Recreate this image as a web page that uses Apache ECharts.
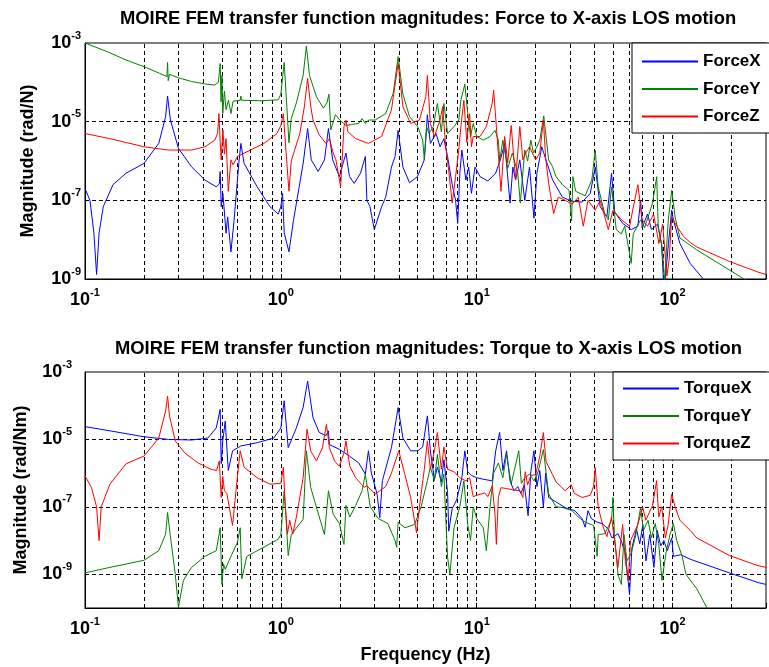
<!DOCTYPE html>
<html>
<head>
<meta charset="utf-8">
<script src="https://cdn.jsdelivr.net/npm/echarts@6/dist/echarts.min.js"></script>
<style>
html, body { margin: 0; padding: 0; background: #fff; }
#chart { width: 769px; height: 667px; }
</style>
</head>
<body>
<div id="chart"></div>
<script>
// transfer function magnitudes, [frequency Hz, magnitude]
var forceX = [
  [0.1, 2.0e-7], [0.106, 1.0e-7], [0.111, 1.5e-8], [0.1146, 1.3e-9], [0.118, 1.5e-8], [0.124, 6.9e-8],
  [0.139, 2.5e-7], [0.162, 4.9e-7], [0.2, 8.7e-7], [0.238, 2.8e-6], [0.258, 1.35e-5], [0.264, 4.5e-5],
  [0.273, 1.1e-5], [0.3, 2.1e-6], [0.35, 7.1e-7], [0.409, 3.3e-7], [0.468, 2.2e-7], [0.485, 2.6e-7],
  [0.49, 5.4e-7], [0.496, 6.9e-8], [0.506, 1.5e-7], [0.525, 1.45e-8], [0.535, 3.8e-8], [0.556, 4.9e-9],
  [0.577, 3.1e-8], [0.61, 8.7e-7], [0.625, 2.8e-6], [0.649, 8.7e-7], [0.757, 2.2e-7], [0.88, 6.9e-8],
  [0.97, 4.5e-8], [1.0, 6.9e-8], [1.02, 1.5e-7], [1.04, 1.5e-8], [1.10, 4.9e-9], [1.16, 3.1e-8],
  [1.30, 8.7e-7], [1.37, 6.7e-6], [1.43, 1.07e-6], [1.55, 5.4e-7], [1.67, 1.07e-6], [1.75, 6.7e-6],
  [1.84, 1.07e-6], [1.99, 4.0e-7], [2.15, 1.6e-6], [2.24, 4.0e-7], [2.37, 2.7e-7], [2.55, 4.9e-7],
  [2.7, 1.3e-6], [2.75, 1.0e-7], [2.85, 7e-8], [3.0, 1.8e-8], [3.27, 6.9e-8], [3.43, 1.2e-7],
  [3.67, 7.0e-7], [3.83, 1.3e-6], [3.97, 6.0e-6], [4.2, 7.0e-7], [4.54, 2.8e-7], [4.98, 4.0e-7],
  [5.4, 1.07e-6], [5.6, 1.5e-5], [5.8, 2.8e-6], [6.2, 5.0e-6], [6.5, 2.3e-6], [6.8, 3.7e-6],
  [7.1, 1.3e-6], [7.5, 2.5e-7], [7.8, 1.0e-7], [8.0, 2.6e-8], [8.2, 4.9e-7], [8.4, 1.9e-6],
  [8.8, 3.3e-7], [9.1, 7.0e-7], [9.4, 1.5e-7], [9.8, 7.0e-7], [10.4, 4.0e-7], [11.4, 3.1e-7],
  [12.5, 4.9e-7], [13.2, 1.07e-6], [13.9, 2.8e-6], [14.8, 8.5e-8], [15.3, 7e-7], [15.8, 3.3e-7],
  [16.6, 1.07e-6], [17.6, 1.0e-7], [18.6, 7e-7], [19.6, 3.5e-8], [20.3, 4.9e-7], [21.5, 2.3e-6],
  [22.0, 1.6e-6], [23.0, 8e-7], [24.4, 3.3e-7], [27.4, 1.2e-7], [30.7, 9.5e-8], [34.5, 9e-8],
  [38, 1.5e-7], [40.3, 7.0e-7], [42.7, 6.9e-8], [46.2, 3.8e-8], [48.8, 4.9e-7], [50.7, 5e-8],
  [55.6, 2.6e-8], [61.5, 1.8e-8], [66.5, 2.2e-8], [68.7, 1.0e-7], [70, 2e-8], [74.5, 4.5e-8],
  [78, 1.8e-8], [84, 2.5e-8], [87.7, 8e-9], [88.8, 3e-9], [90.3, 5e-10], [93, 2e-9],
  [95.3, 8e-9], [99, 5.6e-8], [101, 3.2e-8], [109, 8e-9], [123, 2.5e-9], [143.5, 1.0e-9], [150, 7e-10]
];
var forceY = [
  [0.1, 1.0e-3], [0.13, 6.0e-4], [0.162, 3.7e-4], [0.2, 2.5e-4], [0.24, 1.7e-4], [0.262, 1.4e-4],
  [0.264, 3.2e-4], [0.266, 1.1e-4], [0.27, 1.6e-4], [0.3, 1.3e-4], [0.35, 1.05e-4], [0.409, 9.1e-5],
  [0.459, 8.5e-5], [0.48, 1.0e-4], [0.49, 3.0e-4], [0.495, 3.2e-5], [0.5, 1.5e-4], [0.505, 1.6e-5],
  [0.515, 6e-5], [0.525, 2.0e-5], [0.54, 3.5e-5], [0.556, 1.6e-5], [0.57, 3.3e-5], [0.62, 3.5e-5],
  [0.625, 4.5e-5], [0.63, 3.5e-5], [0.8, 3.4e-5], [0.97, 3.6e-5], [1.0, 5e-5], [1.04, 3.2e-4],
  [1.07, 3e-5], [1.10, 2.9e-6], [1.13, 1.2e-5], [1.2, 3e-5], [1.3, 1.5e-4], [1.35, 8.4e-4],
  [1.40, 1.5e-4], [1.52, 4.3e-5], [1.65, 2.2e-5], [1.72, 3e-5], [1.76, 5e-5], [1.8, 6.2e-6],
  [1.9, 1.5e-5], [2.0, 1.1e-5], [2.15, 8e-6], [2.3, 8.5e-6], [2.5, 9e-6], [2.6, 1.2e-5],
  [2.7, 9e-6], [2.81, 1.1e-5], [3.03, 1.1e-5], [3.43, 1.6e-5], [3.75, 5.3e-5], [3.97, 4.5e-4],
  [4.2, 5e-5], [4.54, 1.35e-5], [5.0, 7.5e-6], [5.3, 3.4e-6], [5.4, 1.07e-6], [5.55, 7.5e-6],
  [5.7, 5e-6], [6.0, 7.5e-6], [6.3, 2.9e-5], [6.6, 5.5e-6], [6.8, 2.9e-5], [7.1, 5e-6],
  [7.66, 7.5e-6], [8.1, 1.1e-5], [8.3, 3.5e-5], [8.7, 9e-5], [9.0, 1.6e-5], [9.3, 4.2e-6],
  [9.6, 9e-6], [10, 4.2e-6], [10.8, 3.4e-6], [11.7, 4.2e-6], [12.4, 6e-6], [12.9, 3.4e-6],
  [13.1, 1e-6], [13.6, 3.4e-6], [14.4, 6.5e-7], [15.2, 1.6e-6], [16.2, 5e-7], [16.7, 8.5e-8],
  [17.6, 1.9e-6], [18.2, 1e-6], [18.9, 3.4e-6], [19.5, 1.6e-6], [20.3, 2.3e-6], [21, 3.4e-6],
  [22, 1.4e-5], [23.3, 1.07e-6], [24.4, 7.2e-7], [25.4, 4e-7], [27.4, 2.5e-7], [29.6, 1.8e-7],
  [30.5, 3e-8], [31, 4e-7], [32, 1.7e-7], [35.8, 1.3e-7], [38.7, 3.3e-7], [40.3, 1.9e-6],
  [41.7, 2.2e-7], [45, 4.6e-8], [47, 3.2e-8], [48.8, 2.2e-7], [51.6, 1.8e-8], [54.8, 1.4e-8],
  [57, 2.2e-8], [61.5, 2.5e-9], [63, 1.4e-8], [68.7, 3.2e-8], [72, 2e-8], [79, 8.5e-8],
  [83, 4e-7], [84.5, 2e-8], [88.8, 6e-9], [91, 8e-10], [95, 3e-8], [99, 1.8e-7],
  [103, 3.8e-8], [109, 1.1e-8], [133, 5.5e-9], [195, 1.7e-9], [228, 1.05e-9], [240, 9e-10]
];
var forceZ = [
  [0.1, 5e-6], [0.134, 3.7e-6], [0.2, 2.3e-6], [0.267, 1.9e-6], [0.35, 1.9e-6], [0.41, 2.3e-6],
  [0.46, 3.4e-6], [0.475, 5e-6], [0.483, 1.6e-5], [0.49, 3e-6], [0.496, 1.07e-6], [0.506, 6.2e-6],
  [0.515, 1.5e-6], [0.525, 3.7e-6], [0.539, 1.7e-7], [0.556, 1.07e-6], [0.57, 8e-7], [0.60, 1.3e-6],
  [0.70, 1.9e-6], [0.82, 2.8e-6], [0.955, 5e-6], [1.0, 8e-6], [1.03, 1.6e-5], [1.07, 1.07e-6],
  [1.10, 1.7e-7], [1.13, 1.0e-6], [1.25, 5e-6], [1.32, 2.5e-5], [1.37, 1.26e-4], [1.42, 2.5e-5],
  [1.46, 1.1e-5], [1.57, 4.6e-6], [1.70, 2.8e-6], [1.77, 3.7e-6], [1.85, 1.6e-6], [1.91, 1.07e-6],
  [2.02, 2.2e-7], [2.1, 7.5e-6], [2.15, 1.1e-5], [2.2, 5.5e-6], [2.41, 3.7e-6], [2.8, 2.8e-6],
  [3.27, 4.2e-6], [3.67, 2e-5], [3.97, 3.05e-4], [4.2, 2.4e-5], [4.6, 9e-6], [5.1, 1.1e-5],
  [5.5, 4.3e-5], [5.6, 1.5e-4], [5.8, 9e-6], [6.08, 4.2e-6], [6.5, 1.1e-5], [6.7, 2.4e-5],
  [6.95, 2.3e-6], [7.2, 5.5e-7], [7.5, 8.5e-8], [7.8, 4e-7], [8.1, 1.9e-6], [8.3, 7.5e-6],
  [8.6, 3.5e-5], [8.9, 3e-6], [9.2, 1.6e-5], [9.4, 2.3e-6], [9.6, 4.2e-6], [10.4, 4.2e-6],
  [11.2, 7.5e-6], [12.0, 2.9e-5], [12.2, 6.4e-5], [12.6, 7.5e-6], [13.3, 1.7e-7], [13.9, 4.2e-6],
  [14.4, 9e-7], [15.0, 8e-6], [15.8, 3.3e-7], [16.6, 7.5e-6], [17.2, 1.07e-6], [17.8, 1.6e-6],
  [18.6, 2.3e-6], [20.0, 1.07e-6], [21.0, 1.6e-6], [21.9, 1.1e-5], [22.5, 1.2e-6], [23.3, 2.7e-7],
  [24.7, 4.6e-8], [26.1, 1.2e-7], [28.3, 1.0e-7], [30.7, 8e-8], [33, 1.2e-7], [35, 2.2e-8],
  [37, 1.0e-7], [40.3, 5.6e-8], [42.7, 1.0e-7], [47, 1.8e-8], [49.6, 5.6e-8], [54.8, 3.2e-8],
  [60.3, 2.2e-8], [66.5, 2.5e-7], [70, 3.2e-8], [74.5, 2.2e-8], [80, 4.5e-8], [85.2, 8e-9],
  [89, 2.5e-8], [93.6, 1.2e-9], [96, 3e-9], [99, 3.8e-8], [105, 2.2e-8], [114, 1.2e-8],
  [123, 8.5e-9], [133, 6.5e-9], [195, 2.8e-9], [273, 1.5e-9], [300, 1.3e-9]
];
var torqueX = [
  [0.1, 2.4e-5], [0.134, 1.8e-5], [0.2, 1.2e-5], [0.267, 1.0e-5], [0.35, 9.6e-6], [0.424, 1.1e-5],
  [0.468, 2.2e-5], [0.49, 7.8e-5], [0.496, 1.9e-6], [0.505, 9e-6], [0.52, 3.5e-5], [0.539, 1.2e-6],
  [0.567, 4.6e-6], [0.625, 6.4e-6], [0.757, 8e-6], [0.92, 1.1e-5], [1.0, 2.2e-5], [1.04, 1.4e-4],
  [1.09, 5.7e-6], [1.2, 2.2e-5], [1.30, 9e-5], [1.37, 5.4e-4], [1.46, 4.4e-5], [1.57, 1.6e-5],
  [1.70, 1.3e-5], [1.75, 1.8e-5], [1.77, 7e-6], [1.99, 5.1e-6], [2.24, 3.2e-6], [2.5, 2.0e-6],
  [2.7, 9.3e-7], [2.8, 4.6e-6], [2.9, 1e-6], [3.1, 2.4e-7], [3.2, 4.8e-8], [3.3, 6e-7],
  [3.67, 5.7e-6], [3.97, 8.8e-5], [4.2, 1.1e-5], [4.6, 4.6e-6], [5.0, 4.6e-6], [5.3, 6e-6],
  [5.6, 5e-5], [5.8, 4.6e-6], [6.08, 6.5e-7], [6.3, 1.5e-6], [6.6, 5.5e-7], [6.8, 2.5e-6],
  [7.1, 2.7e-7], [7.2, 1.9e-8], [7.5, 9e-8], [7.9, 1.6e-7], [8.4, 7.3e-7], [8.7, 4.6e-6],
  [9.0, 1.1e-6], [9.4, 8.5e-7], [10, 7.3e-7], [10.8, 6.6e-7], [12.0, 5.9e-7], [12.5, 4.6e-6],
  [13.1, 1.6e-5], [13.6, 1.2e-6], [14.2, 4.6e-6], [14.8, 5.9e-7], [15.5, 3e-7], [16.2, 4e-7],
  [16.8, 2.5e-7], [17.5, 4.5e-7], [18.3, 5.5e-8], [18.9, 1.1e-6], [19.6, 4.6e-6], [20.3, 4e-7],
  [21, 1.2e-6], [21.9, 1.0e-7], [22.5, 1e-6], [23.3, 1.9e-7], [25.4, 1.4e-7], [28.3, 9.5e-8],
  [31.7, 7.7e-8], [34.5, 4.5e-8], [35.8, 2.5e-8], [37, 7.7e-8], [38.5, 4.5e-8], [41.2, 3.5e-8],
  [43.6, 3.2e-8], [47, 2.2e-8], [49, 1.2e-8], [52.6, 1.6e-8], [55, 9e-9], [57.4, 4.2e-9],
  [60.3, 2.5e-10], [62, 6e-9], [65.4, 2.2e-8], [68, 8e-9], [70.5, 3e-8], [73.2, 2.5e-9],
  [76.5, 1.5e-8], [80.3, 1.6e-9], [83.5, 2e-8], [87, 7e-9], [90.3, 1e-8], [94, 5e-9],
  [99, 1.2e-8], [101, 3.4e-9], [110, 3.8e-9], [123, 2.8e-9], [195, 1.1e-9], [273, 5.7e-10], [300, 5e-10]
];
var torqueY = [
  [0.1, 1.1e-9], [0.134, 1.6e-9], [0.2, 2.6e-9], [0.238, 5e-9], [0.258, 1.55e-8], [0.264, 6.8e-8],
  [0.272, 1.55e-8], [0.289, 1e-9], [0.30, 1.05e-10], [0.318, 6.6e-10], [0.35, 1.6e-9], [0.409, 3.4e-9],
  [0.468, 5e-9], [0.49, 2.4e-8], [0.5, 5e-10], [0.51, 2e-9], [0.52, 1.4e-9], [0.556, 3.4e-9],
  [0.6, 8.8e-9], [0.62, 2.4e-8], [0.632, 7.3e-10], [0.67, 3.4e-9], [0.82, 6.4e-9], [0.97, 1.1e-8],
  [1.0, 1.5e-8], [1.04, 3e-7], [1.07, 2.5e-8], [1.09, 3.6e-9], [1.13, 1.5e-8], [1.30, 4.3e-8],
  [1.35, 4.6e-6], [1.42, 3.8e-7], [1.52, 9.6e-8], [1.6, 3.5e-8], [1.67, 1.5e-8], [1.75, 3e-7],
  [1.85, 6e-8], [1.99, 3.2e-8], [2.1, 7.7e-9], [2.15, 1.1e-7], [2.25, 5e-8], [2.41, 1.1e-7],
  [2.6, 3e-7], [2.7, 9.3e-7], [2.86, 1e-7], [3.14, 4.5e-8], [3.52, 3.2e-8], [3.83, 1e-8],
  [3.9, 6.3e-9], [3.97, 3.5e-8], [4.3, 2.4e-8], [4.82, 3e-8], [5.2, 1e-7], [5.6, 6e-7],
  [5.8, 1.5e-6], [6.08, 6e-7], [6.3, 3.6e-6], [6.6, 4e-7], [6.8, 9.3e-7], [6.95, 5e-8],
  [7.1, 3.2e-9], [7.3, 1e-9], [7.66, 2.4e-8], [8.2, 1e-7], [8.6, 5.9e-7], [9.0, 3e-8],
  [9.3, 1e-8], [9.6, 1e-7], [10, 4.5e-8], [10.8, 2.4e-8], [11.2, 5e-9], [11.7, 1e-7],
  [12.2, 1e-6], [12.9, 2e-6], [13.6, 7.3e-7], [14.2, 3.6e-6], [15, 4.8e-7], [15.7, 1.5e-6],
  [16.4, 4.6e-6], [16.9, 5e-7], [17.6, 7.3e-7], [18.6, 9.3e-7], [19.6, 5.9e-7], [20.5, 1e-6],
  [21.9, 5e-6], [23.3, 2.4e-7], [25.4, 1.0e-7], [27.4, 9.6e-8], [30.7, 7.7e-8], [33, 5e-8],
  [35.8, 3.5e-8], [39.5, 2.8e-8], [41.2, 3.4e-9], [41.7, 1.5e-8], [45, 1.6e-8], [48.8, 4e-8],
  [49.6, 1.9e-7], [50.5, 1.5e-8], [52.6, 1e-9], [54.8, 5e-10], [56.5, 1.5e-8], [58.5, 2.5e-9],
  [61.5, 4.2e-9], [65, 1.5e-8], [68.7, 9.6e-8], [71, 2e-8], [75, 4e-8], [78, 1.2e-8],
  [81.6, 3.2e-8], [85, 8e-9], [88.3, 6.6e-10], [93, 5e-9], [97, 1.5e-8], [101, 3.2e-8],
  [105, 1e-8], [112, 3.4e-9], [117, 1e-9], [133, 3.7e-10], [150, 1e-10], [155, 7e-11]
];
var torqueZ = [
  [0.1, 8.3e-7], [0.108, 3.7e-7], [0.1146, 1e-7], [0.118, 1e-8], [0.121, 1e-7], [0.134, 4.7e-7],
  [0.162, 1.9e-6], [0.2, 3.2e-6], [0.238, 1.1e-5], [0.258, 7e-5], [0.264, 1.94e-4], [0.27, 5e-5],
  [0.289, 9e-6], [0.323, 4e-6], [0.378, 2e-6], [0.44, 1.3e-6], [0.47, 1.2e-6], [0.485, 2.3e-6],
  [0.496, 1.9e-7], [0.505, 8e-7], [0.515, 3e-7], [0.53, 2.5e-7], [0.567, 2.8e-8], [0.59, 3e-7],
  [0.62, 4.6e-6], [0.649, 1.5e-6], [0.757, 7.3e-7], [0.88, 4.7e-7], [1.0, 5e-7], [1.03, 1.5e-6],
  [1.05, 1.5e-7], [1.08, 1.55e-8], [1.11, 4e-8], [1.15, 1.55e-8], [1.2, 5e-8], [1.30, 7.3e-7],
  [1.36, 2e-5], [1.42, 4.6e-6], [1.52, 2.3e-6], [1.63, 5.7e-6], [1.71, 2.8e-5], [1.77, 5.7e-6],
  [1.88, 2.3e-6], [1.99, 1.6e-6], [2.1, 4e-6], [2.15, 9e-6], [2.25, 1.6e-6], [2.41, 7.3e-7],
  [2.66, 3.8e-7], [2.75, 4.2e-7], [3.03, 2.4e-7], [3.43, 4e-7], [3.67, 1e-6], [4.0, 4.6e-6],
  [4.3, 9e-7], [4.6, 1.9e-7], [4.93, 1.7e-8], [5.1, 1e-7], [5.4, 1.3e-6], [5.6, 9e-6],
  [5.8, 1.3e-6], [6.08, 4.6e-6], [6.3, 1.6e-5], [6.6, 1.3e-6], [6.8, 6e-6], [7.1, 1.3e-6],
  [7.66, 1.1e-6], [8.2, 7.3e-7], [8.8, 5.9e-7], [9.2, 7.3e-7], [9.6, 2e-7], [10, 2.2e-7],
  [11, 2.6e-7], [11.4, 2e-7], [12, 4.2e-7], [12.4, 6e-8], [12.6, 7.7e-9], [12.9, 1.9e-7],
  [13.3, 3.7e-7], [14.2, 3.5e-7], [15.3, 3.2e-7], [16.6, 3e-7], [17.2, 1.9e-7], [17.7, 1.1e-6],
  [18.2, 4.5e-7], [18.9, 8.5e-7], [20, 9e-7], [21, 3.2e-6], [21.9, 1.6e-5], [22.6, 2.2e-6],
  [24.4, 9e-7], [25.4, 5.5e-7], [28.3, 3.0e-7], [30.4, 4.5e-7], [31.5, 2.5e-7], [34.5, 1.9e-7],
  [38, 2.2e-7], [39.5, 4e-7], [40.3, 1.45e-6], [41.7, 1e-7], [44.2, 2.6e-8], [46.2, 1.3e-8],
  [48.8, 5e-8], [50.7, 9e-9], [52.6, 1.6e-9], [55.6, 3e-8], [57.4, 2.5e-9], [59.4, 6.6e-10],
  [61, 1e-8], [66.5, 3e-8], [70.3, 1e-7], [73, 4e-8], [79, 1.1e-7], [82.9, 6e-7],
  [85, 5e-8], [88, 1e-7], [91.9, 1.2e-8], [95, 3e-8], [99, 2.4e-7], [103, 1e-7],
  [109, 4e-8], [123, 2e-8], [133, 1.2e-8], [195, 3.6e-9], [273, 1.8e-9], [300, 1.6e-9]
];

// dashed grid positions
var gridFreqs = [0.2, 0.3, 0.4, 0.5, 0.6, 0.7, 0.8, 0.9, 1, 2, 3, 4, 5, 6, 7, 8, 9,
                 10, 20, 30, 40, 50, 60, 70, 80, 90, 100, 200];
var gridMagTop = [1e-5, 1e-7];
var gridMagBottom = [1e-5, 1e-7, 1e-9];

var FONT = '"Liberation Sans", Arial, Helvetica, sans-serif';
var F_MIN = 0.1, F_MAX = 300;

function powLabel(oddOnly) {
  return function (v) {
    var lg = Math.log10(v);
    var e = Math.round(lg);
    if (Math.abs(lg - e) > 1e-6) return '';
    if (oddOnly && e % 2 === 0) return '';
    return '{b|10}{s|' + e + '}';
  };
}
var powRich = {
  b: { fontSize: 18, fontWeight: 'bold', color: '#000', fontFamily: FONT, lineHeight: 26 },
  s: { fontSize: 11, fontWeight: 'bold', color: '#000', fontFamily: FONT, lineHeight: 10, verticalAlign: 'top' }
};

function xAxisOpt(idx, withName) {
  return {
    type: 'log', gridIndex: idx, logBase: 10, min: F_MIN, max: F_MAX,
    name: withName ? 'Frequency (Hz)' : '',
    nameLocation: 'middle', nameGap: 38,
    nameTextStyle: { fontSize: 18, fontWeight: 'bold', color: '#000', fontFamily: FONT },
    axisLine: { onZero: false, lineStyle: { color: '#000', width: 1 } },
    axisTick: { inside: true, length: 5, lineStyle: { color: '#000' } },
    axisLabel: { formatter: powLabel(false), rich: powRich, margin: 8 },
    splitLine: { show: false }
  };
}
function yAxisOpt(idx, min, name, margin, nameGap) {
  return {
    type: 'log', gridIndex: idx, logBase: 10, min: min, max: 1e-3,
    name: name, nameLocation: 'middle', nameGap: nameGap,
    nameTextStyle: { fontSize: 18, fontWeight: 'bold', color: '#000', fontFamily: FONT },
    axisLine: { onZero: false, lineStyle: { color: '#000', width: 1 } },
    axisTick: { show: false },
    axisLabel: { formatter: powLabel(true), rich: powRich, margin: margin },
    splitLine: { show: false }
  };
}
function gridLines(idx, mags, magMin) {
  var vert = gridFreqs.map(function (f) {
    return [{ coord: [f, magMin] }, { coord: [f, 1e-3] }];
  });
  var horiz = mags.map(function (m) {
    return [{ coord: [F_MIN, m] }, { coord: [F_MAX, m] }];
  });
  return {
    type: 'line', xAxisIndex: idx, yAxisIndex: idx, data: [], silent: true, z: 1,
    markLine: {
      z: 1, silent: true, animation: false, symbol: ['none', 'none'],
      label: { show: false },
      lineStyle: { color: '#000', type: [4, 3], width: 1 },
      data: vert.concat(horiz)
    }
  };
}
function curve(name, idx, data, color) {
  return {
    name: name, type: 'line', xAxisIndex: idx, yAxisIndex: idx, data: data, z: 2,
    symbol: 'none', showSymbol: false, clip: true,
    lineStyle: { color: color, width: 1 }, itemStyle: { color: color }
  };
}
function legendOpt(names, left, top, padTop) {
  return {
    data: names, orient: 'vertical', left: left, top: top, z: 10,
    icon: 'rect', padding: [padTop, 40, 8, 10], itemWidth: 56, itemHeight: 2, itemGap: 10.5,
    backgroundColor: '#fff', borderColor: '#000', borderWidth: 1, borderRadius: 0,
    textStyle: { fontSize: 17, fontWeight: 'bold', color: '#000', fontFamily: FONT }
  };
}

var chart = echarts.init(document.getElementById('chart'));
chart.setOption({
  animation: false,
  backgroundColor: '#fff',
  title: [
    { text: 'MOIRE FEM transfer function magnitudes: Force to X-axis LOS motion', left: 120, top: 10, padding: 0,
      textStyle: { fontSize: 18.4, fontWeight: 'bold', color: '#000', fontFamily: FONT } },
    { text: 'MOIRE FEM transfer function magnitudes: Torque to X-axis LOS motion', left: 115, top: 340, padding: 0,
      textStyle: { fontSize: 18.4, fontWeight: 'bold', color: '#000', fontFamily: FONT } }
  ],
  legend: [
    legendOpt(['ForceX', 'ForceY', 'ForceZ'], 632, 43, 10),
    legendOpt(['TorqueX', 'TorqueY', 'TorqueZ'], 613, 372, 8)
  ],
  grid: [
    { left: 85, right: -8, top: 43, height: 236, show: true, borderColor: '#000', borderWidth: 1, backgroundColor: '#fff' },
    { left: 85, right: -8, top: 372, height: 236, show: true, borderColor: '#000', borderWidth: 1, backgroundColor: '#fff' }
  ],
  xAxis: [xAxisOpt(0, false), xAxisOpt(1, true)],
  yAxis: [
    yAxisOpt(0, 1e-9, 'Magnitude (rad/N)', 4, 48),
    yAxisOpt(1, 1e-10, 'Magnitude (rad/Nm)', 13, 55)
  ],
  series: [
    gridLines(0, gridMagTop, 1e-9),
    gridLines(1, gridMagBottom, 1e-10),
    curve('ForceX', 0, forceX, '#0000ff'),
    curve('ForceY', 0, forceY, '#008000'),
    curve('ForceZ', 0, forceZ, '#ff0000'),
    curve('TorqueX', 1, torqueX, '#0000ff'),
    curve('TorqueY', 1, torqueY, '#008000'),
    curve('TorqueZ', 1, torqueZ, '#ff0000')
  ]
});
</script>
</body>
</html>
